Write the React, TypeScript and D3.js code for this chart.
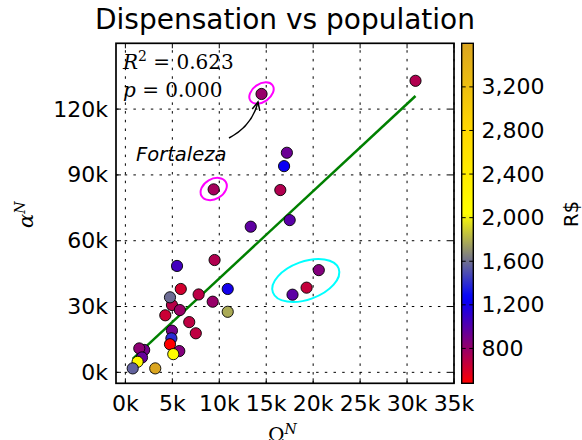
import React from "react";
import * as d3 from "d3";

// Population (Omega^N), dispensation (alpha^N), cost (R$)
const population = [
  2000, 1480, 1770, 1300, 780, 3180,
  4960, 4900, 4750, 5740, 5100,
  4250, 4960, 5800, 4750,
  6800, 7500, 10900, 9300, 7800, 5900, 10900, 5500, 9500,
  20600, 19300, 17800,
  13350, 17500, 9400, 16500, 16900, 17200, 14500, 30900,
];
const dispensation = [
  10200, 10900, 6800, 4800, 1800, 1800,
  19000, 15500, 12800, 9700, 8300,
  26000, 30700, 28400, 34200,
  22900, 17800, 27600, 32200, 35500, 38000, 38000, 48500, 51200,
  46600, 38600, 35400,
  66400, 69400, 83400, 83100, 94000, 100100, 126900, 132900,
];
const cost = [
  900, 830, 950, 2150, 1560, 3600,
  900, 1390, 480, 860, 2100,
  640, 700, 790, 1590,
  680, 680, 1780, 800, 690, 620, 1200, 1060, 720,
  860, 660, 980,
  970, 990, 760, 720, 1230, 930, 800, 720,
];

const xTicks = [0, 5000, 10000, 15000, 20000, 25000, 30000, 35000];
const yTicks = [0, 30000, 60000, 90000, 120000];
const cbTicks = [800, 1200, 1600, 2000, 2400, 2800, 3200];

const cmapStops = [480, 870, 1260, 1650, 2040, 2820, 3600];
const cmapColors = ["#ff0000", "#800080", "#0000ff", "#808080", "#ffff00", "#ffd700", "#daa520"];

const fitSlope = 3.98;
const fitIntercept = 3000;

export default function App() {
  const L = 116, R = 454, T = 43.3, B = 383.3;
  const x = d3.scaleLinear().domain([-1000, 35000]).range([L, R]);
  const y = d3.scaleLinear().domain([-5000, 150000]).range([B, T]);
  const cmap = d3.scaleLinear<string>().domain(cmapStops).range(cmapColors).interpolate(d3.interpolateRgb).clamp(true);
  const cbL = 461.7, cbR = 473.3;
  const cbScale = d3.scaleLinear().domain([480, 3600]).range([B, T]);

  const xMin = d3.min(population)!;
  const xMax = d3.max(population)!;
  const line = d3.line<number>().x((d) => x(d)).y((d) => y(fitIntercept + fitSlope * d));

  const gradStops = d3.range(0, 1.0001, 0.02).map((t) => ({ t, c: cmap(480 + t * 3120) }));
  const fmtK = (v: number) => `${v / 1000}k`;
  const fmtC = d3.format(",");
  const font = "DejaVu Sans, sans-serif";
  const serif = "DejaVu Serif, serif";
  const tickFs = 22;

  // arrow head at end of curve
  const ax = 258, ay = 102, cx = 252, cy = 126;
  const ang = Math.atan2(ay - cy, ax - cx);
  const hl = 9, hw = 0.45;
  const h1 = [ax - hl * Math.cos(ang - hw), ay - hl * Math.sin(ang - hw)];
  const h2 = [ax - hl * Math.cos(ang + hw), ay - hl * Math.sin(ang + hw)];

  return (
    <svg width={582} height={440} style={{ position: "absolute", left: 0, top: 0, background: "#fff" }}>
      <defs>
        <linearGradient id="cb" x1="0" y1="1" x2="0" y2="0">
          {gradStops.map((s, i) => (
            <stop key={i} offset={s.t} stopColor={s.c} />
          ))}
        </linearGradient>
        <clipPath id="plot">
          <rect x={L} y={T} width={R - L} height={B - T} />
        </clipPath>
      </defs>
      <rect x={0} y={0} width={582} height={440} fill="#fff" />
      <text x={(L + R) / 2} y={29} textAnchor="middle" fontFamily={font} fontSize={28} fill="#000">
        Dispensation vs population
      </text>
      {/* grid */}
      <g stroke="#000" strokeWidth={1} strokeDasharray="2.5,6.2">
        {xTicks.map((t) => (
          <line key={"gx" + t} x1={x(t)} x2={x(t)} y1={B} y2={T} />
        ))}
        {yTicks.map((t) => (
          <line key={"gy" + t} x1={L} x2={R} y1={y(t)} y2={y(t)} />
        ))}
      </g>
      {/* ticks */}
      <g stroke="#000" strokeWidth={1}>
        {xTicks.map((t) => (
          <g key={"tx" + t}>
            <line x1={x(t)} x2={x(t)} y1={B} y2={B - 5} />
            <line x1={x(t)} x2={x(t)} y1={T} y2={T + 5} />
          </g>
        ))}
        {yTicks.map((t) => (
          <g key={"ty" + t}>
            <line x1={L} x2={L + 5} y1={y(t)} y2={y(t)} />
            <line x1={R} x2={R - 5} y1={y(t)} y2={y(t)} />
          </g>
        ))}
      </g>
      {/* regression line */}
      <path d={line([xMin, xMax]) || ""} stroke="#008000" strokeWidth={2.5} fill="none" clipPath="url(#plot)" />
      {/* points */}
      <g>
        {population.map((p, i) => (
          <circle key={i} cx={x(p)} cy={y(dispensation[i])} r={5.6} fill={cmap(cost[i])} stroke="#000" strokeWidth={0.9} />
        ))}
      </g>
      {/* highlights */}
      <ellipse cx={261.5} cy={93} rx={13.5} ry={9} transform="rotate(-35 261.5 93)" fill="none" stroke="#ff00ff" strokeWidth={2} />
      <ellipse cx={213.7} cy={189} rx={14} ry={10} transform="rotate(-30 213.7 189)" fill="none" stroke="#ff00ff" strokeWidth={2} />
      <ellipse cx={305.8} cy={280.5} rx={35} ry={19} transform="rotate(-20 305.8 280.5)" fill="none" stroke="#00ffff" strokeWidth={2} />
      {/* annotation */}
      <path d={`M229,138 Q${cx},${cy} ${ax},${ay}`} fill="none" stroke="#000" strokeWidth={1.5} />
      <path d={`M${h1[0]},${h1[1]} L${ax},${ay} L${h2[0]},${h2[1]}`} fill="none" stroke="#000" strokeWidth={1.5} />
      <text x={136} y={161} fontFamily={font} fontStyle="italic" fontSize={19.5} fill="#000">Fortaleza</text>
      <text x={123} y={69} fontFamily={serif} fontSize={20} fill="#000">
        <tspan fontStyle="italic">R</tspan>
        <tspan fontSize={14} dy={-8}>2</tspan>
        <tspan dy={8}> = 0.623</tspan>
      </text>
      <text x={123} y={97} fontFamily={serif} fontSize={20} fill="#000">
        <tspan fontStyle="italic">p</tspan>
        <tspan> = 0.000</tspan>
      </text>
      {/* frame */}
      <rect x={L} y={T} width={R - L} height={B - T} fill="none" stroke="#000" strokeWidth={1.7} />
      {/* tick labels */}
      {xTicks.map((t) => (
        <text key={"lx" + t} x={x(t)} y={411} textAnchor="middle" fontFamily={font} fontSize={tickFs} fill="#000">
          {fmtK(t)}
        </text>
      ))}
      {yTicks.map((t) => (
        <text key={"ly" + t} x={108} y={y(t)} textAnchor="end" dominantBaseline="central" fontFamily={font} fontSize={tickFs} fill="#000">
          {fmtK(t)}
        </text>
      ))}
      {/* axis labels */}
      <text x={268} y={442} fontFamily={serif} fontSize={20} fill="#000">
        <tspan>Ω</tspan>
        <tspan fontSize={14} dy={-8} fontStyle="italic">N</tspan>
      </text>
      <text transform="translate(33,228) rotate(-90)" fontFamily={serif} fontSize={21} fill="#000">
        <tspan fontStyle="italic">α</tspan>
        <tspan fontSize={14} dy={-8} fontStyle="italic">N</tspan>
      </text>
      {/* colorbar */}
      <rect x={cbL} y={T} width={cbR - cbL} height={B - T} fill="url(#cb)" stroke="#000" strokeWidth={1.4} />
      {cbTicks.map((t) => (
        <g key={"cb" + t}>
          <line x1={cbL} x2={cbL + 4} y1={cbScale(t)} y2={cbScale(t)} stroke="#000" strokeWidth={1} />
          <line x1={cbR} x2={cbR - 4} y1={cbScale(t)} y2={cbScale(t)} stroke="#000" strokeWidth={1} />
          <text x={481.5} y={cbScale(t)} dominantBaseline="central" fontFamily={font} fontSize={tickFs} fill="#000">
            {fmtC(t)}
          </text>
        </g>
      ))}
      <text transform="translate(578,214) rotate(-90)" textAnchor="middle" fontFamily={font} fontSize={20} fill="#000">
        R$
      </text>
    </svg>
  );
}
